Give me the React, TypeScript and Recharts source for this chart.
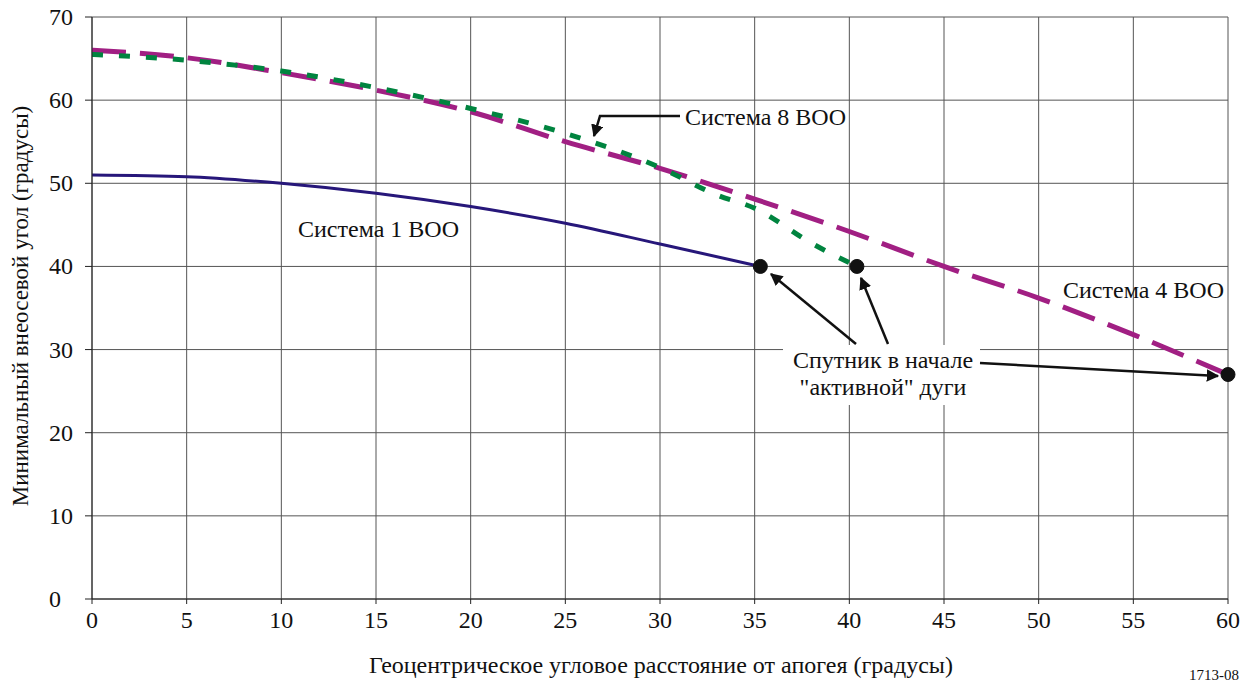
import { LineChart, Line, XAxis, YAxis, CartesianGrid, ReferenceDot } from "recharts"

// geocentric angle from apogee (deg) -> minimum off-axis angle (deg)
const system1 = [
  { x: 0, y: 51.0 },
  { x: 5, y: 50.8 },
  { x: 10, y: 50.0 },
  { x: 15, y: 48.8 },
  { x: 20, y: 47.2 },
  { x: 25, y: 45.2 },
  { x: 30, y: 42.7 },
  { x: 35.3, y: 40.0 },
]

const system4 = [
  { x: 0, y: 66.0 },
  { x: 5, y: 65.1 },
  { x: 10, y: 63.3 },
  { x: 15, y: 61.2 },
  { x: 20, y: 58.6 },
  { x: 25, y: 55.0 },
  { x: 30, y: 51.8 },
  { x: 35, y: 48.1 },
  { x: 40, y: 44.2 },
  { x: 45, y: 40.0 },
  { x: 50, y: 36.2 },
  { x: 55, y: 31.8 },
  { x: 60, y: 27.0 },
]

const system8 = [
  { x: 0, y: 65.5 },
  { x: 5, y: 64.8 },
  { x: 10, y: 63.5 },
  { x: 15, y: 61.5 },
  { x: 20, y: 59.0 },
  { x: 25, y: 56.0 },
  { x: 30, y: 51.9 },
  { x: 33, y: 48.6 },
  { x: 35, y: 47.0 },
  { x: 38, y: 42.8 },
  { x: 40.4, y: 40.0 },
]

// satellite at the start of the "active" arc
const arcStart = [
  { x: 35.3, y: 40 },
  { x: 40.4, y: 40 },
  { x: 60, y: 27 },
]

const xTicks = [0, 5, 10, 15, 20, 25, 30, 35, 40, 45, 50, 55, 60]
const yTicks = [0, 10, 20, 30, 40, 50, 60, 70]

const font = "'Liberation Serif', 'Times New Roman', serif"

const YTick = (props: any) => (
  <text x={49} y={props.y} textAnchor="start" dominantBaseline="central" fontSize={24} fontFamily={font} fill="#111">
    {props.payload.value}
  </text>
)

export default function App() {
  return (
    <div style={{ position: "absolute", left: 0, top: 0, width: 1249, height: 682, background: "#fff" }}>
      <LineChart width={1249} height={682} margin={{ top: 17, right: 21, bottom: 0, left: 0 }}>
        <CartesianGrid stroke="#555" strokeWidth={1} />
        <XAxis
          type="number"
          dataKey="x"
          domain={[0, 60]}
          ticks={xTicks}
          height={83}
          tickSize={5}
          tickMargin={7}
          stroke="#222"
          tick={{ fontSize: 24, fontFamily: font, fill: "#111" }}
          allowDataOverflow
        />
        <YAxis
          type="number"
          domain={[0, 70]}
          ticks={yTicks}
          width={92}
          tickSize={7}
          stroke="#222"
          tick={<YTick />}
          allowDataOverflow
        />
        <Line data={system1} dataKey="y" type="monotone" stroke="#27177a" strokeWidth={3} dot={false} isAnimationActive={false} />
        <Line data={system4} dataKey="y" type="monotone" stroke="#a11f83" strokeWidth={5} strokeDasharray="34 14" dot={false} isAnimationActive={false} />
        <Line data={system8} dataKey="y" type="monotone" stroke="#00843f" strokeWidth={5} strokeDasharray="11 16" dot={false} isAnimationActive={false} />
        {arcStart.map((p, i) => (
          <ReferenceDot key={i} x={p.x} y={p.y} r={7} fill="#111" stroke="#111" ifOverflow="visible" />
        ))}
      </LineChart>
      <svg width={1249} height={682} style={{ position: "absolute", left: 0, top: 0, pointerEvents: "none" }} fontFamily={font}>
        <defs>
          <marker id="ah" viewBox="0 0 10 10" refX="9" refY="5" markerWidth="5" markerHeight="5" orient="auto">
            <path d="M0,0 L10,5 L0,10 z" fill="#111" />
          </marker>
        </defs>
        <text x={298} y={237} fontSize={24} fill="#111">Система 1 ВОО</text>
        <text x={685} y={125} fontSize={24} fill="#111">Система 8 ВОО</text>
        <text x={1063} y={298} fontSize={24} fill="#111">Система 4 ВОО</text>
        <path d="M680,116 L600,116 L594,136" fill="none" stroke="#111" strokeWidth={2.5} markerEnd="url(#ah)" />
        <rect x={783} y={345} width={197} height={60} fill="#fff" />
        <text x={883} y={368} fontSize={24} fill="#111" textAnchor="middle">Спутник в начале</text>
        <text x={883} y={395} fontSize={24} fill="#111" textAnchor="middle">"активной" дуги</text>
        <line x1={856} y1={344} x2={771} y2={274} stroke="#111" strokeWidth={2.5} markerEnd="url(#ah)" />
        <line x1={888} y1={344} x2={861} y2={278} stroke="#111" strokeWidth={2.5} markerEnd="url(#ah)" />
        <line x1={980} y1={363} x2={1218} y2={376} stroke="#111" strokeWidth={2.5} markerEnd="url(#ah)" />
        <text x={661} y={673} fontSize={24} fill="#111" textAnchor="middle">
          Геоцентрическое угловое расстояние от апогея (градусы)
        </text>
        <text x={1214} y={680} fontSize={15} fill="#111" textAnchor="middle">1713-08</text>
        <text
          x={20}
          y={306}
          fontSize={23}
          fill="#111"
          textAnchor="middle"
          dominantBaseline="central"
          transform="rotate(-90 20 306)"
        >
          Минимальный внеосевой угол (градусы)
        </text>
      </svg>
    </div>
  )
}
